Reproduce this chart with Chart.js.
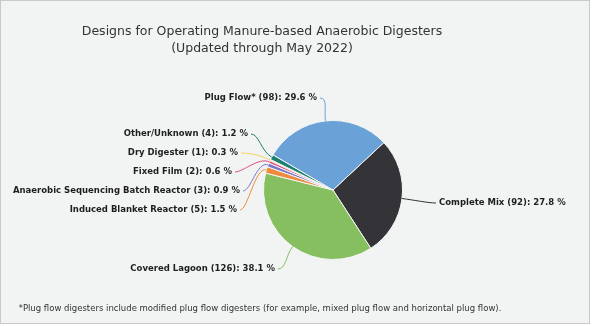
<!DOCTYPE html>
<html>
<head>
<meta charset="utf-8">
<script src="https://cdn.jsdelivr.net/npm/chart.js@4"></script>
<style>
  body { margin: 0; background: #ffffff; }
  #card {
    position: absolute; left: 0; top: 0;
    width: 590px; height: 324px; box-sizing: border-box;
    border: 1px solid #c9c9c9; background: #f2f3f3;
  }
  #wrap { position: absolute; left: 0; top: 0; width: 592px; height: 326px; }
</style>
</head>
<body>
<div id="card"></div>
<div id="wrap"><canvas id="digester-chart" width="592" height="326"></canvas></div>
<script>
// Digester designs, clockwise from Complete Mix
const designNames = [
    'Complete Mix',
    'Covered Lagoon',
    'Induced Blanket Reactor',
    'Anaerobic Sequencing Batch Reactor',
    'Fixed Film',
    'Dry Digester',
    'Other/Unknown',
    'Plug Flow*'
];
const designCounts = [92, 126, 5, 3, 2, 1, 4, 98];
const designPercents = [27.8, 38.1, 1.5, 0.9, 0.6, 0.3, 1.2, 29.6];
const sliceColors = ['#333338', '#86bf5f', '#f08a3c', '#7a78c8', '#e04a7c', '#f2d55e', '#1c7f6f', '#6aa2d8'];

const titleLines = ['Designs for Operating Manure-based Anaerobic Digesters', '(Updated through May 2022)'];
const footnote = '*Plug flow digesters include modified plug flow digesters (for example, mixed plug flow and horizontal plug flow).';

// where each outside label sits (text anchor + alignment)
const labelSpots = [
    { x: 439, y: 203, align: 'left' },
    { x: 275, y: 269, align: 'right' },
    { x: 237, y: 210, align: 'right' },
    { x: 240, y: 191, align: 'right' },
    { x: 232, y: 172, align: 'right' },
    { x: 238, y: 153, align: 'right' },
    { x: 248, y: 134, align: 'right' },
    { x: 317, y: 98, align: 'right' }
];

const labelFont = 'bold 8.5px "DejaVu Sans"';

// Title and footnote text
const headerFooter = {
    id: 'headerFooter',
    afterDraw(chart) {
        const ctx = chart.ctx;
        ctx.save();
        ctx.fillStyle = '#333333';
        ctx.textAlign = 'center';
        ctx.textBaseline = 'middle';
        ctx.font = '12.5px "DejaVu Sans"';
        ctx.fillText(titleLines[0], 262, 32);
        ctx.fillText(titleLines[1], 262, 49);
        ctx.font = '8.5px "DejaVu Sans"';
        ctx.fillText(footnote, 260, 309);
        ctx.restore();
    }
};

// Outside labels with curved leader lines back to each slice
const outsideLabels = {
    id: 'outsideLabels',
    afterDatasetsDraw(chart) {
        const ctx = chart.ctx;
        const arcs = chart.getDatasetMeta(0).data;
        ctx.save();
        ctx.font = labelFont;
        ctx.textBaseline = 'middle';
        arcs.forEach((arc, i) => {
            const p = arc.getProps(['x', 'y', 'startAngle', 'endAngle', 'outerRadius'], true);
            const mid = (p.startAngle + p.endAngle) / 2;
            const ax = p.x + Math.cos(mid) * p.outerRadius;
            const ay = p.y + Math.sin(mid) * p.outerRadius;
            const spot = labelSpots[i];
            const text = designNames[i] + ' (' + designCounts[i] + '): ' + designPercents[i] + ' %';
            const dir = spot.align === 'right' ? 1 : -1;
            const ex = spot.x + dir * 3;
            const ey = spot.y;

            ctx.strokeStyle = sliceColors[i];
            ctx.lineWidth = 1;
            ctx.beginPath();
            ctx.moveTo(ex, ey);
            ctx.bezierCurveTo(ex + dir * 8, ey,
                ax + Math.cos(mid) * 12, ay + Math.sin(mid) * 12,
                ax, ay);
            ctx.stroke();

            ctx.fillStyle = '#1e1e1e';
            ctx.textAlign = spot.align;
            ctx.fillText(text, spot.x, spot.y);
        });
        ctx.restore();
    }
};

const ctx = document.getElementById('digester-chart').getContext('2d');
const myChart = new Chart(ctx, {
    type: 'pie',
    data: {
        labels: designNames,
        datasets: [{
            data: designCounts,
            backgroundColor: sliceColors,
            borderColor: '#f4f5f5',
            borderWidth: 1
        }]
    },
    options: {
        responsive: false,
        animation: false,
        rotation: 47,
        layout: {
            padding: { left: 263, right: 189, top: 120, bottom: 66 }
        },
        plugins: {
            legend: { display: false },
            tooltip: { enabled: false }
        }
    },
    plugins: [headerFooter, outsideLabels]
});
</script>
</body>
</html>
